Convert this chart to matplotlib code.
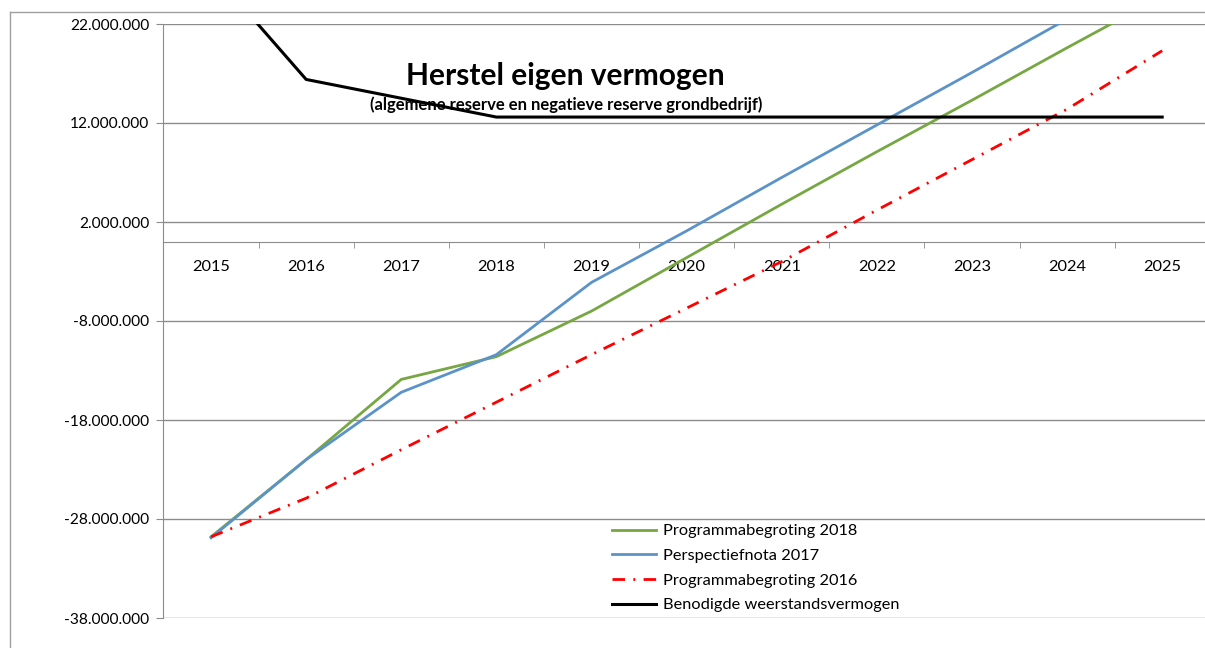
import matplotlib.pyplot as plt
from matplotlib.lines import Line2D
from matplotlib.ticker import FuncFormatter

# Data (bedragen in euro's)
jaren = ["2015", "2016", "2017", "2018", "2019", "2020",
         "2021", "2022", "2023", "2024", "2025"]
programmabegroting_2018 = [-29.8e6, -22.0e6, -13.9e6, -11.6e6, -7.0e6, -1.6e6,
                           3.8e6, 9.1e6, 14.3e6, 19.6e6, 24.8e6]
perspectiefnota_2017 = [-29.9e6, -22.0e6, -15.2e6, -11.4e6, -4.1e6, 1.1e6,
                        6.5e6, 11.8e6, 17.1e6, 22.5e6, 27.8e6]
programmabegroting_2016 = [-29.8e6, -25.9e6, -21.0e6, -16.2e6, -11.4e6, -6.7e6,
                           -2.0e6, 3.2e6, 8.3e6, 13.4e6, 19.3e6]
benodigd_weerstandsvermogen = [27.4e6, 16.4e6, 14.5e6, 12.6e6, 12.6e6, 12.6e6,
                               12.6e6, 12.6e6, 12.6e6, 12.6e6, 12.6e6]
y_ticks = [-38e6, -28e6, -18e6, -8e6, 2e6, 12e6, 22e6]

font = ["Lato", "DejaVu Sans"]
plt.rcParams["font.family"] = font
grijs = "#8c8c8c"

fig = plt.figure(figsize=(12.05, 6.48), dpi=100)
ax = fig.add_axes([163 / 1205, 30 / 648, 1042 / 1205, 594 / 648])

x = range(len(jaren))
ax.plot(x, programmabegroting_2018, color="#76a743", linewidth=2,
        label="Programmabegroting 2018", zorder=3)
ax.plot(x, perspectiefnota_2017, color="#5b93c9", linewidth=2,
        label="Perspectiefnota 2017", zorder=3)
ax.plot(x, programmabegroting_2016, color="#ff0000", linewidth=2,
        linestyle=(0, (4.5, 3, 0.7, 3)), label="Programmabegroting 2016", zorder=3)
ax.plot(x, benodigd_weerstandsvermogen, color="black", linewidth=2.2,
        label="Benodigde weerstandsvermogen", zorder=3)

ax.set_xlim(-0.505, 10.45)
ax.set_ylim(-38e6, 22e6)

# y-as
ax.set_yticks(y_ticks)
ax.yaxis.set_major_formatter(FuncFormatter(lambda v, p: f"{int(round(v)):,}".replace(",", ".")))
ax.tick_params(axis="y", length=5, color=grijs, labelsize=11.2, pad=5)
ax.grid(axis="y", color=grijs, linewidth=1)
ax.set_axisbelow(True)

# x-as op nul met streepjes tussen de categorieën
ax.spines["bottom"].set_position(("data", 0))
ax.spines["bottom"].set_color(grijs)
ax.spines["left"].set_color(grijs)
ax.spines["top"].set_visible(False)
ax.spines["right"].set_visible(False)
ax.set_xticks(list(x))
ax.set_xticklabels(jaren)
ax.set_xticks([i + 0.5 for i in range(len(jaren) - 1)], minor=True)
ax.tick_params(axis="x", which="major", length=0, pad=13, labelsize=11.8)
ax.tick_params(axis="x", which="minor", length=4.5, color=grijs, direction="out")

# titel
fig.text(565 / 1205, 1 - 76 / 648, "Herstel eigen vermogen",
         ha="center", va="center", fontsize=21.5, fontweight="bold")
fig.text(566 / 1205, 1 - 105 / 648, "(algemene reserve en negatieve reserve grondbedrijf)",
         ha="center", va="center", fontsize=12, fontweight="bold")

ax.legend(loc="upper left", bbox_to_anchor=(612 / 1205, 1 - 524 / 648),
          bbox_transform=fig.transFigure, frameon=False, fontsize=11.8,
          handlelength=2.7, handletextpad=0.4, labelspacing=0.62,
          borderpad=0, borderaxespad=0)

# kader rond de grafiek
fig.add_artist(Line2D([10 / 1205, 10 / 1205], [0, 1 - 12 / 648], color="#a0a0a0", lw=1))
fig.add_artist(Line2D([10 / 1205, 1], [1 - 12 / 648, 1 - 12 / 648], color="#a0a0a0", lw=1))

plt.savefig("out.png", dpi=100)
